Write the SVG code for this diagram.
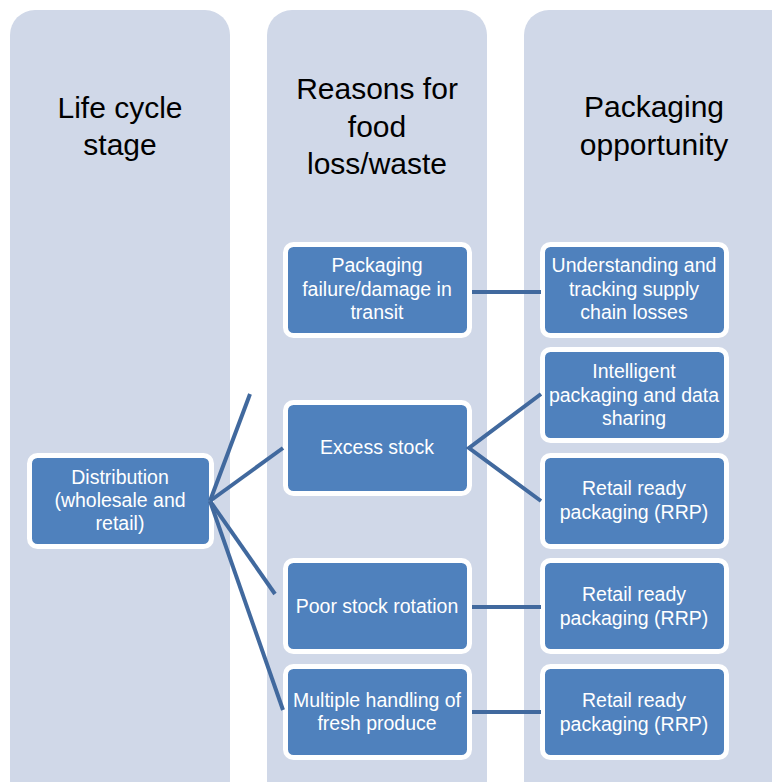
<svg xmlns="http://www.w3.org/2000/svg" width="772" height="782" viewBox="0 0 772 782">
<style>
.col{fill:#d0d8e8}
.box{fill:#4f81bd;stroke:#ffffff;stroke-width:5}
.hd{font-family:"Liberation Sans",Arial,sans-serif;font-size:30px;fill:#000;text-anchor:middle}
.nt{font-family:"Liberation Sans",Arial,sans-serif;font-size:19.5px;fill:#fff;text-anchor:middle}
.cn{stroke:#41699e;stroke-width:4;fill:none;stroke-linecap:butt}
</style>
<rect width="772" height="782" fill="#ffffff"/>
<g id="columns">
<rect class="col" x="10" y="10" width="220" height="795" rx="25"/>
<rect class="col" x="267" y="10" width="220" height="795" rx="25"/>
<rect class="col" x="524" y="10" width="290" height="795" rx="25"/>
<text class="hd" x="120" y="118">Life cycle</text>
<text class="hd" x="120" y="155">stage</text>
<text class="hd" x="377" y="99">Reasons for</text>
<text class="hd" x="377" y="137">food</text>
<text class="hd" x="377" y="174">loss/waste</text>
<text class="hd" x="654" y="117">Packaging</text>
<text class="hd" x="654" y="155">opportunity</text>
</g>
<g id="n-distribution">
<rect class="box" x="29.5" y="455.5" width="182" height="91" rx="8"/>
<text class="nt" x="120" y="484">Distribution</text>
<text class="nt" x="120" y="507">(wholesale and</text>
<text class="nt" x="120" y="530">retail)</text>
</g>
<g id="n-packaging-failure">
<rect class="box" x="285.5" y="244.5" width="184" height="91" rx="8"/>
<text class="nt" x="377" y="272">Packaging</text>
<text class="nt" x="377" y="296">failure/damage in</text>
<text class="nt" x="377" y="319">transit</text>
</g>
<g id="n-excess-stock">
<rect class="box" x="285.5" y="402.5" width="184" height="91" rx="8"/>
<text class="nt" x="377" y="454">Excess stock</text>
</g>
<g id="n-poor-rotation">
<rect class="box" x="285.5" y="560.5" width="184" height="91" rx="8"/>
<text class="nt" x="377" y="613">Poor stock rotation</text>
</g>
<g id="n-multiple-handling">
<rect class="box" x="285.5" y="666.5" width="184" height="91" rx="8"/>
<text class="nt" x="377" y="707">Multiple handling of</text>
<text class="nt" x="377" y="730">fresh produce</text>
</g>
<g id="n-understanding">
<rect class="box" x="542.5" y="244.5" width="184" height="91" rx="8"/>
<text class="nt" x="634" y="272">Understanding and</text>
<text class="nt" x="634" y="296">tracking supply</text>
<text class="nt" x="634" y="319">chain losses</text>
</g>
<g id="n-intelligent">
<rect class="box" x="542.5" y="349.5" width="184" height="91" rx="8"/>
<text class="nt" x="634" y="378">Intelligent</text>
<text class="nt" x="634" y="402">packaging and data</text>
<text class="nt" x="634" y="425">sharing</text>
</g>
<g id="n-rrp1">
<rect class="box" x="542.5" y="455.5" width="184" height="91" rx="8"/>
<text class="nt" x="634" y="495">Retail ready</text>
<text class="nt" x="634" y="519">packaging (RRP)</text>
</g>
<g id="n-rrp2">
<rect class="box" x="542.5" y="560.5" width="184" height="91" rx="8"/>
<text class="nt" x="634" y="601">Retail ready</text>
<text class="nt" x="634" y="625">packaging (RRP)</text>
</g>
<g id="n-rrp3">
<rect class="box" x="542.5" y="666.5" width="184" height="91" rx="8"/>
<text class="nt" x="634" y="707">Retail ready</text>
<text class="nt" x="634" y="731">packaging (RRP)</text>
</g>
<g id="connectors">
<line class="cn" x1="210" y1="501" x2="250" y2="394"/>
<line class="cn" x1="210" y1="501" x2="283" y2="448"/>
<line class="cn" x1="210" y1="501" x2="275" y2="594"/>
<line class="cn" x1="210" y1="501" x2="283" y2="710"/>
<line class="cn" x1="472" y1="292" x2="541" y2="292"/>
<polyline class="cn" points="541,394 469,448 541,501"/>
<line class="cn" x1="472" y1="607" x2="541" y2="607"/>
<line class="cn" x1="472" y1="712" x2="541" y2="712"/>
</g>
</svg>
